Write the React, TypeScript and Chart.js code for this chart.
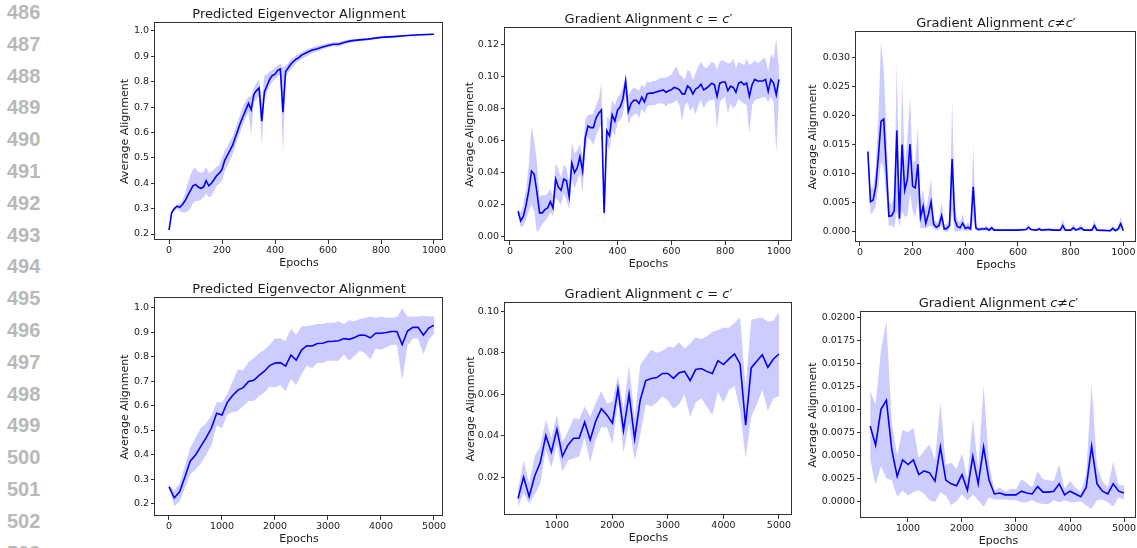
import React, { useEffect, useRef } from "react";
import { Chart, registerables } from "chart.js";
Chart.register(...registerables);

// ---------------- DATA ----------------
// Panel 1: Predicted Eigenvector Alignment (0-1000 epochs)
const epochs1 = [0,10,20,30,40,50,60,70,80,90,100,110,120,130,140,150,160,170,180,190,200,210,220,230,240,250,260,270,280,290,300,310,320,330,340,350,360,370,380,390,400,410,420,430,440,450,460,470,480,490,500,520,540,560,580,600,620,640,660,680,700,750,800,850,900,950,1000];
const mean1 = [0.215,0.285,0.30,0.31,0.305,0.315,0.33,0.35,0.37,0.39, 0.395,0.385,0.38,0.385,0.41,0.39,0.40,0.415,0.43,0.44, 0.455,0.49,0.51,0.53,0.55,0.58,0.61,0.64,0.665,0.69, 0.715,0.69,0.75,0.765,0.775,0.645,0.76,0.785,0.81,0.825, 0.83,0.845,0.85,0.68,0.84,0.855,0.87,0.88,0.89,0.895, 0.905,0.915,0.925,0.93,0.937,0.943,0.948,0.948,0.955,0.96, 0.963,0.968,0.975,0.978,0.982,0.985,0.987];
const lo1 = [0.21,0.275,0.29,0.30,0.29,0.285,0.285,0.29,0.30,0.32, 0.33,0.33,0.335,0.345,0.36,0.345,0.35,0.37,0.39,0.40, 0.41,0.445,0.47,0.49,0.515,0.545,0.575,0.605,0.635,0.66, 0.68,0.59,0.72,0.73,0.745,0.55,0.73,0.76,0.785,0.80, 0.81,0.82,0.83,0.51,0.82,0.835,0.85,0.86,0.875,0.88, 0.89,0.90,0.912,0.92,0.928,0.935,0.94,0.938,0.948,0.953, 0.958,0.963,0.971,0.974,0.979,0.982,0.984];
const hi1 = [0.22,0.29,0.305,0.315,0.32,0.33,0.36,0.40,0.43,0.455, 0.46,0.445,0.44,0.445,0.465,0.44,0.445,0.455,0.465,0.475, 0.50,0.53,0.545,0.565,0.585,0.615,0.645,0.675,0.705,0.725, 0.74,0.745,0.775,0.795,0.81,0.72,0.825,0.83,0.84,0.845, 0.855,0.865,0.87,0.855,0.865,0.875,0.89,0.895,0.905,0.91, 0.915,0.928,0.935,0.942,0.947,0.952,0.956,0.957,0.962,0.966, 0.968,0.972,0.979,0.982,0.985,0.988,0.99];

// Panel 2: Gradient Alignment c = c' (30-1000 epochs)
const epochs2 = [30,40,50,60,70,80,90,100,110,120,130,140,150,160,170,180,190,200,210,220,230,240,250,260,270,280,290,300,310,320,330,340,350,360,370,380,390,400,410,420,430,440,450,460,470,480,490,500,510,520,530,540,550,560,570,580,590,600,610,620,630,640,650,660,670,680,690,700,710,720,730,740,750,760,770,780,790,800,810,820,830,840,850,860,870,880,890,900,910,920,930,940,950,960,970,980,990,1000];
const mean2 = [0.016,0.010,0.013,0.020,0.029,0.041,0.039,0.028,0.015,0.015, 0.017,0.018,0.022,0.018,0.036,0.031,0.029,0.036,0.035,0.025, 0.046,0.040,0.043,0.050,0.041,0.062,0.069,0.068,0.068,0.074, 0.077,0.079,0.015,0.066,0.063,0.076,0.072,0.079,0.081,0.086, 0.097,0.078,0.083,0.085,0.085,0.083,0.087,0.084,0.089,0.0895, 0.0895,0.090,0.0905,0.091,0.0915,0.090,0.091,0.0915,0.093,0.0925, 0.0915,0.089,0.089,0.094,0.0925,0.089,0.092,0.093,0.095,0.0915, 0.0925,0.094,0.0957,0.0947,0.0875,0.0957,0.0964,0.0964,0.091,0.0937, 0.093,0.090,0.0957,0.0964,0.0947,0.0957,0.0875,0.0947,0.098,0.097, 0.097,0.097,0.098,0.0906,0.098,0.0957,0.0885,0.098];
const lo2 = [0.013,0.006,0.007,0.011,0.016,0.020,0.016,0.003,0.005,0.008, 0.010,0.012,0.015,0.013,0.025,0.022,0.020,0.027,0.023,0.017, 0.036,0.030,0.035,0.040,0.027,0.054,0.062,0.060,0.057,0.063, 0.067,0.070,0.009,0.058,0.054,0.066,0.063,0.071,0.073,0.076, 0.088,0.070,0.074,0.076,0.077,0.074,0.080,0.077,0.081,0.082, 0.082,0.082,0.083,0.083,0.083,0.081,0.083,0.083,0.084,0.085, 0.082,0.072,0.082,0.084,0.078,0.081,0.076,0.082,0.085,0.080, 0.083,0.085,0.085,0.086,0.067,0.084,0.086,0.087,0.077,0.083, 0.080,0.082,0.086,0.084,0.083,0.082,0.064,0.082,0.085,0.086, 0.086,0.087,0.087,0.084,0.087,0.084,0.052,0.088];
const hi2 = [0.017,0.015,0.020,0.030,0.045,0.069,0.060,0.047,0.025,0.026, 0.026,0.027,0.030,0.025,0.046,0.042,0.037,0.045,0.043,0.034, 0.059,0.052,0.054,0.058,0.050,0.073,0.076,0.076,0.077,0.082, 0.086,0.096,0.017,0.075,0.073,0.085,0.082,0.087,0.089,0.093, 0.101,0.088,0.091,0.093,0.092,0.091,0.095,0.093,0.097,0.096, 0.097,0.097,0.098,0.099,0.099,0.099,0.100,0.101,0.104,0.106, 0.101,0.100,0.098,0.104,0.103,0.098,0.102,0.106,0.109,0.106, 0.105,0.107,0.109,0.108,0.104,0.109,0.110,0.109,0.108,0.108, 0.111,0.105,0.109,0.108,0.107,0.111,0.107,0.108,0.110,0.108, 0.109,0.111,0.111,0.103,0.114,0.111,0.124,0.105];

// Panel 3: Gradient Alignment c != c' (30-1000 epochs)
const epochs3 = [30,40,50,60,70,80,90,100,110,120,130,140,150,160,170,180,190,200,210,220,230,240,250,260,270,280,290,300,310,320,330,340,350,360,370,380,390,400,410,420,430,440,450,460,470,480,490,500,510, 520,560,600,630,640,650,670,680,690,720,730,760,770,780,800,810,820,830,840,850,880,890,900,950,960,970,980,990,1000];
const mean3 = [0.0138,0.0051,0.0054,0.0077,0.0130,0.0190,0.0194,0.0110,0.0026,0.0027, 0.0035,0.0174,0.0022,0.0150,0.0071,0.0090,0.0151,0.0078,0.0075,0.0116, 0.0024,0.0043,0.0014,0.0030,0.0051,0.0012,0.0007,0.0010,0.0027,0.0004, 0.0005,0.0010,0.0125,0.0020,0.0008,0.0006,0.0014,0.0005,0.0007,0.0004, 0.0077,0.0006,0.0003,0.0004,0.0004,0.0005,0.0002,0.0006,0.0002, 0.0002,0.0002,0.0002,0.0003,0.0007,0.0003,0.0002,0.0004,0.0002,0.0003, 0.0002,0.0002,0.0010,0.0002,0.0002,0.0006,0.0002,0.0004,0.0006,0.0002, 0.0002,0.0010,0.0002,0.0001,0.0005,0.0001,0.0004,0.0013,0.0001];
const lo3 = [0.0125,0.0030,0.0033,0.0045,0.0080,0.0120,0.0110,0.0060,0.0008,0.0011, 0.0005,0.0035,0.0008,0.0035,0.0025,0.0027,0.0065,0.0035,0.0025,0.0050, 0.0005,0.0006,0.0005,0.0008,0.0010,0.0005,0.0002,0.0003,0.0010,0.0000, -0.0001,0.0003,0.0035,-0.0002,0.0001,0.0000,0.0003,0.0000,0.0002,0.0000, 0.0020,0.0001,0.0001,0.0001,0.0001,0.0001,0.0000,0.0001,0.0001, 0.0001,0.0001,0.0001,0.0001,0.0003,0.0001,0.0001,0.0001,0.0001,0.0001, 0.0001,0.0001,0.0002,0.0001,0.0001,0.0001,0.0001,0.0001,0.0001,0.0001, 0.0001,0.0002,0.0001,0.0000,0.0001,0.0000,0.0001,0.0004,0.0000];
const hi3 = [0.0147,0.0072,0.0076,0.0110,0.0200,0.0328,0.0280,0.0180,0.0052,0.0045, 0.0062,0.0292,0.0040,0.0264,0.0115,0.0160,0.0234,0.0120,0.0122,0.0180, 0.0052,0.0072,0.0038,0.0060,0.0092,0.0022,0.0015,0.0020,0.0052,0.0012, 0.0012,0.0020,0.0228,0.0045,0.0020,0.0015,0.0030,0.0010,0.0015,0.0010, 0.0148,0.0012,0.0006,0.0008,0.0008,0.0010,0.0005,0.0011,0.0004, 0.0004,0.0004,0.0004,0.0005,0.0012,0.0005,0.0004,0.0008,0.0004,0.0006, 0.0004,0.0004,0.0022,0.0004,0.0004,0.0013,0.0004,0.0008,0.0012,0.0004, 0.0004,0.0020,0.0004,0.0003,0.0010,0.0003,0.0008,0.0025,0.0003];

// Panel 4: Predicted Eigenvector Alignment (0-5000 epochs)
const epochs4 = [0,100,200,300,400,500,600,700,800,900,1000,1100,1200,1300,1400,1500,1600,1700,1800,1900,2000,2100,2200,2300,2400,2500,2600,2700,2800,2900,3000,3100,3200,3300,3400,3500,3600,3700,3800,3900,4000,4100,4200,4300,4400,4500,4600,4700,4800,4900,5000];
const mean4 = [0.27,0.225,0.25,0.31,0.375,0.40,0.435,0.47,0.51,0.57, 0.563,0.615,0.643,0.665,0.675,0.70,0.705,0.725,0.742,0.765, 0.775,0.777,0.763,0.808,0.787,0.828,0.846,0.845,0.855,0.856, 0.863,0.864,0.866,0.875,0.872,0.880,0.890,0.889,0.878,0.897, 0.897,0.900,0.904,0.904,0.851,0.906,0.921,0.921,0.889,0.918,0.930];
const lo4 = [0.265,0.19,0.21,0.265,0.32,0.34,0.365,0.40,0.44,0.52, 0.51,0.565,0.575,0.58,0.60,0.62,0.62,0.64,0.655,0.68, 0.675,0.685,0.66,0.71,0.685,0.73,0.765,0.755,0.775,0.775, 0.785,0.785,0.785,0.81,0.785,0.805,0.825,0.815,0.79,0.835, 0.83,0.84,0.85,0.85,0.705,0.845,0.875,0.875,0.81,0.87,0.895];
const hi4 = [0.28,0.255,0.285,0.355,0.43,0.47,0.51,0.53,0.56,0.615, 0.615,0.65,0.70,0.75,0.745,0.78,0.795,0.815,0.83,0.85, 0.875,0.875,0.865,0.915,0.89,0.925,0.925,0.93,0.935,0.935, 0.94,0.94,0.945,0.935,0.95,0.945,0.955,0.96,0.965,0.96, 0.965,0.96,0.96,0.962,0.998,0.965,0.965,0.965,0.968,0.965,0.965];

// Panel 5: Gradient Alignment c = c' (300-5000 epochs)
const epochs5 = [300,400,500,600,700,800,900,1000,1100,1200,1300,1400,1500,1600,1700,1800,1900,2000,2100,2200,2300,2400,2500,2600,2700,2800,2900,3000,3100,3200,3300,3400,3500,3600,3700,3800,3900,4000,4100,4200,4300,4400,4500,4600,4700,4800,4900,5000];
const mean5 = [0.0097,0.020,0.0106,0.0205,0.027,0.040,0.032,0.043,0.030,0.0355, 0.0387,0.0387,0.0465,0.038,0.047,0.053,0.050,0.046,0.0626,0.0425, 0.060,0.0385,0.057,0.0666,0.0676,0.068,0.070,0.070,0.0676,0.0703, 0.071,0.0666,0.0719,0.0724,0.071,0.070,0.0762,0.0743,0.077,0.0794, 0.0746,0.045,0.0727,0.0759,0.079,0.073,0.077,0.0794];
const lo5 = [0.0055,0.0125,0.0071,0.0116,0.0168,0.0333,0.0245,0.0357,0.0226,0.028, 0.029,0.030,0.039,0.027,0.038,0.044,0.044,0.036,0.056,0.032, 0.046,0.028,0.040,0.055,0.054,0.056,0.059,0.057,0.053,0.055, 0.060,0.049,0.056,0.058,0.054,0.050,0.061,0.056,0.062,0.064, 0.052,0.029,0.049,0.055,0.062,0.052,0.058,0.059];
const hi5 = [0.014,0.028,0.017,0.030,0.035,0.0475,0.039,0.050,0.037,0.042, 0.0485,0.048,0.054,0.049,0.056,0.0615,0.0555,0.0565,0.069,0.053, 0.074,0.048,0.074,0.078,0.0815,0.080,0.081,0.083,0.0825,0.085, 0.082,0.0845,0.0875,0.0865,0.088,0.090,0.091,0.092,0.092,0.0945, 0.097,0.063,0.096,0.0965,0.097,0.095,0.0955,0.0995];

// Panel 6: Gradient Alignment c != c' (300-5000 epochs)
const epochs6 = [300,400,500,600,700,800,900,1000,1100,1200,1300,1400,1500,1600,1700,1800,1900,2000,2100,2200,2300,2400,2500,2600,2700,2800,2900,3000,3100,3200,3300,3400,3500,3600,3700,3800,3900,4000,4100,4200,4300,4400,4500,4600,4700,4800,4900,5000];
const mean6 = [0.0082,0.0061,0.0100,0.0110,0.0056,0.0027,0.0045,0.0040,0.0045,0.0029, 0.0033,0.0031,0.0022,0.0059,0.0023,0.0019,0.0017,0.0029,0.0012,0.0049, 0.0019,0.0059,0.0023,0.0008,0.0009,0.0007,0.0007,0.0007,0.0011,0.0009, 0.0008,0.0016,0.0010,0.0010,0.0011,0.0019,0.0007,0.0011,0.0008,0.0005, 0.0015,0.0060,0.0019,0.0011,0.0008,0.0019,0.0011,0.0009];
const lo6 = [0.0045,0.0018,0.0038,0.0025,0.0023,0.0005,0.0012,0.0006,0.0010,0.0012, 0.0008,0.0001,-0.0001,0.0010,0.0006,-0.0004,0.0000,0.0008,0.0001,0.0007, 0.0001,-0.0006,0.0004,0.0002,0.0002,0.0002,0.0001,0.0001,-0.0001,-0.0001, 0.0001,-0.0002,-0.0003,-0.0003,0.0001,-0.0001,0.0001,-0.0001,-0.0001,0.0000, -0.0005,-0.0008,0.0001,0.0002,-0.0001,-0.0006,0.0004,0.0002];
const hi6 = [0.0120,0.0105,0.0165,0.0196,0.0085,0.0050,0.0078,0.0075,0.0080,0.0047, 0.0055,0.0062,0.0045,0.0108,0.0040,0.0042,0.0035,0.0052,0.0025,0.0091, 0.0035,0.0126,0.0042,0.0012,0.0015,0.0011,0.0013,0.0013,0.0024,0.0020, 0.0015,0.0033,0.0024,0.0023,0.0022,0.0040,0.0014,0.0022,0.0015,0.0010, 0.0030,0.0128,0.0038,0.0022,0.0015,0.0043,0.0018,0.0017];

// tick values
const xTicksShort = [0, 200, 400, 600, 800, 1000];
const xTicksLong0 = [0, 1000, 2000, 3000, 4000, 5000];
const xTicksLong1 = [1000, 2000, 3000, 4000, 5000];
const yTicksEig = [0.2, 0.3, 0.4, 0.5, 0.6, 0.7, 0.8, 0.9, 1.0];
const yTicks2 = [0.0, 0.02, 0.04, 0.06, 0.08, 0.10, 0.12];
const yTicks3 = [0.0, 0.005, 0.01, 0.015, 0.02, 0.025, 0.03];
const yTicks5 = [0.02, 0.04, 0.06, 0.08, 0.10];
const yTicks6 = [0.0, 0.0025, 0.005, 0.0075, 0.01, 0.0125, 0.015, 0.0175, 0.02];

const lineNumbers = ["486","487","488","489","490","491","492","493","494","495","496","497","498","499","500","501","502","503"];

// ---------------- STYLE / LAYOUT ----------------
const FONT = "'DejaVu Sans', 'Liberation Sans', sans-serif";
const TXT = "#1a1a1a";
const LINE = "#0000ff";
const BAND = "rgba(0,0,255,0.2)";
const PAD_L = 72, PAD_T = 30, PAD_R = 20, PAD_B = 36;

type Seg = { t: string; it?: boolean };
const titleEig: Seg[] = [{ t: "Predicted Eigenvector Alignment" }];
const titleEq: Seg[] = [{ t: "Gradient Alignment " }, { t: "c", it: true }, { t: " = " }, { t: "c", it: true }, { t: "′" }];
const titleNe: Seg[] = [{ t: "Gradient Alignment " }, { t: "c", it: true }, { t: "≠" }, { t: "c", it: true }, { t: "′" }];

type PanelCfg = {
  title: Seg[]; x: number[]; mean: number[]; lo: number[]; hi: number[];
  xMin: number; xMax: number; yMin: number; yMax: number;
  xTicks: number[]; yTicks: number[]; yDec: number;
  rect: [number, number, number, number]; ylabelOff: number;
};

const panels: PanelCfg[] = [
  { title: titleEig, x: epochs1, mean: mean1, lo: lo1, hi: hi1, xMin: -53, xMax: 1034, yMin: 0.1764, yMax: 1.0315, xTicks: xTicksShort, yTicks: yTicksEig, yDec: 1, rect: [155, 23, 443, 240], ylabelOff: 30 },
  { title: titleEq, x: epochs2, mean: mean2, lo: lo2, hi: hi2, xMin: -18.5, xMax: 1048.5, yMin: -0.0025, yMax: 0.13, xTicks: xTicksShort, yTicks: yTicks2, yDec: 2, rect: [505, 28, 792, 241], ylabelOff: 35 },
  { title: titleNe, x: epochs3, mean: mean3, lo: lo3, hi: hi3, xMin: -15, xMax: 1048, yMin: -0.00185, yMax: 0.03445, xTicks: xTicksShort, yTicks: yTicks3, yDec: 3, rect: [856, 32, 1136, 242], ylabelOff: 43 },
  { title: titleEig, x: epochs4, mean: mean4, lo: lo4, hi: hi4, xMin: -264, xMax: 5170, yMin: 0.151, yMax: 1.0408, xTicks: xTicksLong0, yTicks: yTicksEig, yDec: 1, rect: [155, 298, 443, 516], ylabelOff: 30 },
  { title: titleEq, x: epochs5, mean: mean5, lo: lo5, hi: hi5, xMin: 65, xMax: 5235, yMin: 0.0017, yMax: 0.104, xTicks: xTicksLong1, yTicks: yTicks5, yDec: 2, rect: [505, 303, 792, 515], ylabelOff: 34 },
  { title: titleNe, x: epochs6, mean: mean6, lo: lo6, hi: hi6, xMin: 130, xMax: 5222, yMin: -0.00182, yMax: 0.0206, xTicks: xTicksLong1, yTicks: yTicks6, yDec: 4, rect: [861, 312, 1136, 518], ylabelOff: 48 },
];

const decoPlugin = {
  id: "deco",
  afterDraw(chart: any, _args: any, opts: any) {
    const { ctx, chartArea: a } = chart;
    ctx.save();
    ctx.strokeStyle = "#333";
    ctx.lineWidth = 1;
    ctx.strokeRect(a.left - 0.5, a.top - 0.5, a.right - a.left, a.bottom - a.top);
    // title
    const segs: Seg[] = opts.segs;
    ctx.fillStyle = TXT;
    ctx.textBaseline = "middle";
    ctx.textAlign = "left";
    const fontOf = (it?: boolean) => `${it ? "oblique " : ""}13px ${FONT}`;
    let total = 0;
    segs.forEach((s) => { ctx.font = fontOf(s.it); total += ctx.measureText(s.t).width; });
    let x = (a.left + a.right) / 2 - total / 2;
    segs.forEach((s) => { ctx.font = fontOf(s.it); ctx.fillText(s.t, x, a.top - 8); x += ctx.measureText(s.t).width; });
    // axis labels
    ctx.font = `11px ${FONT}`;
    ctx.textAlign = "center";
    ctx.fillText("Epochs", (a.left + a.right) / 2, a.bottom + 23);
    ctx.translate(a.left - opts.ylabelOff, (a.top + a.bottom) / 2);
    ctx.rotate(-Math.PI / 2);
    ctx.fillText("Average Alignment", 0, 0);
    ctx.restore();
  },
};

function Panel({ cfg }: { cfg: PanelCfg }) {
  const ref = useRef<HTMLCanvasElement>(null);
  const [L, T, R, B] = cfg.rect;
  const w = R - L + PAD_L + PAD_R;
  const h = B - T + PAD_T + PAD_B;
  useEffect(() => {
    const pts = (ys: number[]) => cfg.x.map((x, i) => ({ x, y: ys[i] }));
    const tickFont = { family: FONT, size: 9.5 };
    const chart = new Chart(ref.current as HTMLCanvasElement, {
      type: "line",
      data: {
        datasets: [
          { data: pts(cfg.lo), borderWidth: 0, pointRadius: 0, fill: false, borderColor: "rgba(0,0,0,0)" },
          { data: pts(cfg.hi), borderWidth: 0, pointRadius: 0, fill: "-1", backgroundColor: BAND, borderColor: "rgba(0,0,0,0)" },
          { data: pts(cfg.mean), borderWidth: 1.6, pointRadius: 0, borderColor: LINE, fill: false },
        ],
      } as any,
      options: {
        animation: false,
        responsive: false,
        devicePixelRatio: 1,
        layout: { padding: { top: PAD_T, right: PAD_R, left: 0, bottom: 0 } },
        plugins: {
          legend: { display: false },
          tooltip: { enabled: false },
          deco: { segs: cfg.title, ylabelOff: cfg.ylabelOff },
        } as any,
        scales: {
          x: {
            type: "linear", min: cfg.xMin, max: cfg.xMax, bounds: "data",
            afterBuildTicks: (s: any) => { s.ticks = cfg.xTicks.map((v) => ({ value: v })); },
            afterFit: (s: any) => { s.height = PAD_B; s.paddingLeft = 0; s.paddingRight = 0; },
            grid: { display: true, drawOnChartArea: false, drawTicks: true, tickLength: 4, tickColor: "#333", color: "#333" },
            border: { display: false },
            ticks: { font: tickFont, color: TXT, padding: 1, maxRotation: 0, autoSkip: false, callback: (v: any) => String(v) },
          },
          y: {
            type: "linear", min: cfg.yMin, max: cfg.yMax, bounds: "data",
            afterBuildTicks: (s: any) => { s.ticks = cfg.yTicks.map((v) => ({ value: v })); },
            afterFit: (s: any) => { s.width = PAD_L; s.paddingTop = 0; s.paddingBottom = 0; },
            grid: { display: true, drawOnChartArea: false, drawTicks: true, tickLength: 4, tickColor: "#333", color: "#333" },
            border: { display: false },
            ticks: { font: tickFont, color: TXT, padding: 2, autoSkip: false, callback: (v: any) => Number(v).toFixed(cfg.yDec) },
          },
        } as any,
      },
      plugins: [decoPlugin as any],
    });
    return () => chart.destroy();
  }, []);
  return (
    <canvas
      ref={ref}
      width={w}
      height={h}
      style={{ position: "absolute", left: L - PAD_L, top: T - PAD_T, width: w, height: h }}
    />
  );
}

export default function App() {
  return (
    <div style={{ position: "absolute", left: 0, top: 0, width: 1137, height: 548, overflow: "hidden", background: "#fff" }}>
      {lineNumbers.map((n, i) => (
        <div
          key={n}
          style={{
            position: "absolute", left: 7, top: 12 + i * 31.8 - 10, height: 20, lineHeight: "20px",
            fontFamily: "'Liberation Sans', Arial, sans-serif", fontWeight: "bold", fontSize: 20, color: "#b8b8b8",
          }}
        >
          {n}
        </div>
      ))}
      {panels.map((p, i) => <Panel key={i} cfg={p} />)}
    </div>
  );
}
